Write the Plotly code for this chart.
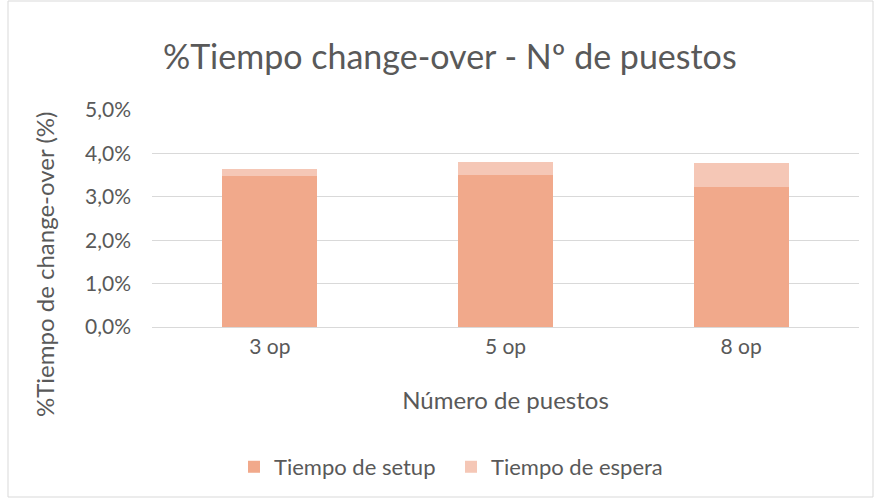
import plotly.graph_objects as go

categories = ["3 op", "5 op", "8 op"]
setup = [3.49, 3.51, 3.23]
espera = [0.14, 0.30, 0.55]
y_ticks = [0, 1, 2, 3, 4, 5]
y_tick_labels = ["0,0%", "1,0%", "2,0%", "3,0%", "4,0%", "5,0%"]

FONT = "Lato, Open Sans, sans-serif"
GREY = "#595959"
PW, PH = 707, 217  # plot area size in px

fig = go.Figure()
fig.add_trace(go.Bar(x=categories, y=setup, name="Tiempo de setup",
                     marker=dict(color="#F1A98B", line=dict(width=0))))
fig.add_trace(go.Bar(x=categories, y=espera, name="Tiempo de espera",
                     marker=dict(color="#F5C7B6", line=dict(width=0))))

fig.update_layout(
    barmode="stack",
    bargap=0.596,
    width=875, height=500,
    margin=dict(l=152, r=16, t=110, b=173, autoexpand=False),
    paper_bgcolor="white", plot_bgcolor="white",
    font=dict(family=FONT, color=GREY, size=21),
    title=dict(text="%Tiempo change-over - Nº de puestos", x=0.514, xanchor="center",
               y=0.886, yanchor="middle",
               font=dict(size=34, color=GREY, family=FONT)),
    legend=dict(orientation="h", x=(234 - 152) / PW, xanchor="left", y=-0.645, yanchor="middle",
                font=dict(size=22, color=GREY), traceorder="normal",
                itemwidth=30, entrywidth=172, entrywidthmode="pixels"),
    xaxis=dict(title=dict(text="Número de puestos", font=dict(size=24, color=GREY), standoff=35),
               showgrid=False, showline=False, ticks="", ticklabelstandoff=5,
               tickfont=dict(size=21, color=GREY)),
    yaxis=dict(range=[0, 5], tickvals=y_ticks, ticktext=y_tick_labels,
               showgrid=True, gridcolor="#D9D9D9", gridwidth=1,
               zeroline=True, zerolinecolor="#D9D9D9", zerolinewidth=1,
               showline=False, ticks="", ticklen=0, ticklabelstandoff=20,
               tickfont=dict(size=21, color=GREY)),
    annotations=[dict(text="%Tiempo de change-over (%)", textangle=-90,
                      xref="paper", yref="paper",
                      x=(44 - 152) / PW, y=(327 - 265) / PH,
                      xanchor="center", yanchor="middle", showarrow=False,
                      font=dict(size=24, color=GREY, family=FONT))],
    shapes=[dict(type="rect", xref="paper", yref="paper",
                 x0=(8 - 152) / PW, x1=(873 - 152) / PW,
                 y0=(327 - 497) / PH, y1=(327 - 1) / PH,
                 line=dict(color="#D9D9D9", width=1), fillcolor="rgba(0,0,0,0)")],
)

fig.write_html("out.html", config={"displayModeBar": False})

with open("out.html", "r", encoding="utf-8") as f:
    html = f.read()
html = html.replace("<head>", "<head><style>html,body{margin:0;padding:0;}</style>", 1)
with open("out.html", "w", encoding="utf-8") as f:
    f.write(html)
